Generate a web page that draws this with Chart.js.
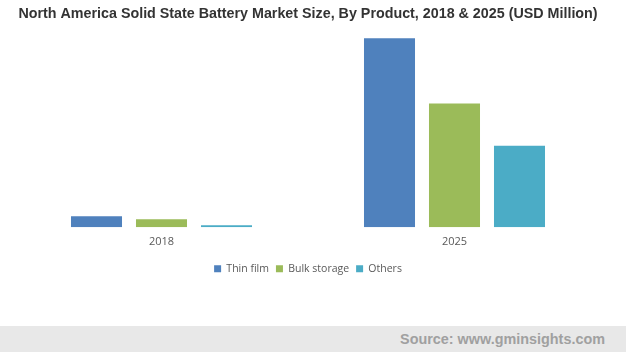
<!DOCTYPE html>
<html>
<head>
<meta charset="utf-8">
<script src="https://cdn.jsdelivr.net/npm/chart.js@4/dist/chart.umd.min.js"></script>
<style>
  html, body { margin: 0; padding: 0; background: #ffffff; }
  #wrap { position: relative; width: 626px; height: 326px; }
  #footer { width: 626px; height: 26px; background: #e8e8e8; box-sizing: border-box;
    padding-right: 21px; text-align: right; font: bold 14.4px "Liberation Sans", Arial, sans-serif;
    color: #a0a0a0; line-height: 26px; }
</style>
</head>
<body>
<div id="wrap"><canvas id="c"></canvas></div>
<div id="footer">Source: www.gminsights.com</div>
<script>
const categories = ["2018", "2025"];
const seriesNames = ["Thin film", "Bulk storage", "Others"];
const thinFilm = [11, 188];
const bulkStorage = [8, 123];
const others = [2, 81];
const colors = ["#4f81bd", "#9bbb59", "#4bacc6"];

const ctx = document.getElementById('c');
new Chart(ctx, {
  type: 'bar',
  data: {
    labels: categories,
    datasets: [thinFilm, bulkStorage, others].map((d, i) => ({
      label: seriesNames[i],
      data: d,
      backgroundColor: colors[i],
      borderWidth: 0,
      categoryPercentage: 0.6655,
      barPercentage: 0.785
    }))
  },
  options: {
    responsive: true,
    maintainAspectRatio: false,
    animation: false,
    layout: { padding: { left: 15, right: 25, top: 0, bottom: 42 } },
    plugins: {
      title: {
        display: true,
        text: 'North America Solid State Battery Market Size, By Product, 2018 & 2025 (USD Million)',
        color: '#333333',
        font: { family: '"Liberation Sans", Arial, sans-serif', size: 14.3, weight: 'bold' },
        padding: { top: 5, bottom: 4 }
      },
      legend: {
        position: 'bottom',
        labels: {
          boxWidth: 7, boxHeight: 7, color: '#595959',
          font: { family: '"Open Sans", sans-serif', size: 10.5 },
          padding: 7
        }
      },
      tooltip: { enabled: false }
    },
    scales: {
      x: {
        grid: { display: false, drawTicks: false },
        border: { display: false },
        ticks: { color: '#595959', font: { family: '"Open Sans", sans-serif', size: 11 }, padding: 8 }
      },
      y: {
        display: false,
        min: 0,
        max: 200
      }
    }
  }
});
</script>
</body>
</html>
